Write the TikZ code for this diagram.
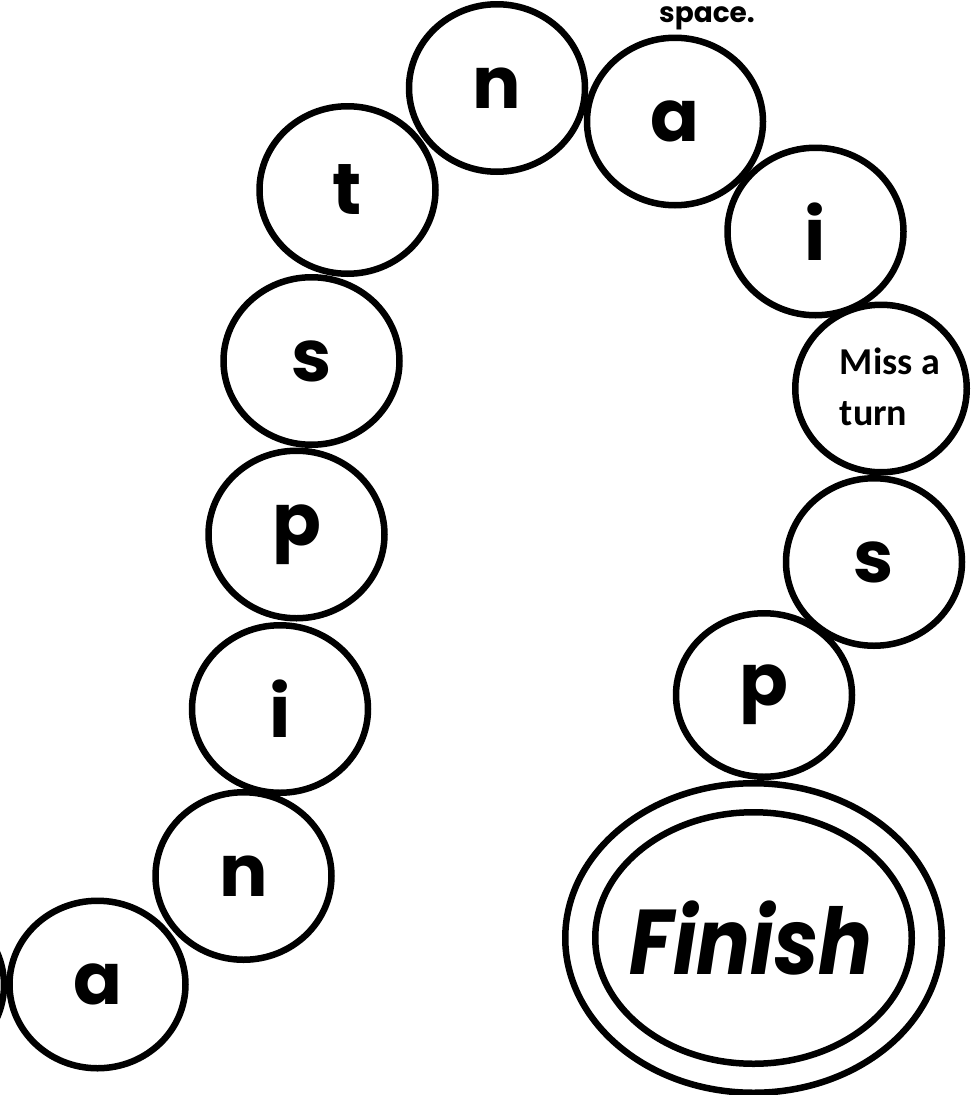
\documentclass[tikz,border=0pt]{standalone}
\usepackage{fontspec}
\usetikzlibrary{shapes.geometric}
\newfontfamily\popfont{Poppins}
\newfontfamily\carlfont{Carlito}
\tikzset{
  x=1pt, y=-1pt,
  spot/.style={draw, line width=6.5pt, ellipse, inner sep=0pt,
    minimum width=176pt, minimum height=167.5pt,
    font=\popfont\bfseries\fontsize{72}{72}\selectfont},
  ring/.style={draw, line width=6.5pt, ellipse, inner sep=0pt},
}
\begin{document}
\begin{tikzpicture}
\useasboundingbox (0,0) rectangle (971,1095);
\begin{scope}
\clip (0,0) rectangle (971,1095);
\node[spot] (cut) at (-84,985) {};
\node[spot] (a1) at (97.5,984.5) {a};
\node[spot] (n1) at (243.5,876) {n};
\node[spot] (i1) at (280,709) {i};
\node[spot] (p1) at (296.5,534.5) {p};
\node[spot] (s1) at (311.5,361) {s};
\node[spot] (t1) at (347.5,190) {t};
\node[spot] (n2) at (497,88) {n};
\node[spot] (a2) at (675,121.5) {a};
\node[spot] (i2) at (815.5,231.5) {i};
\node[spot, minimum width=171.5pt] (miss) at (881,388.5) {};
\node[spot] (s2) at (874,562) {s};
\node[spot, minimum height=163.5pt] (p2) at (764,695) {p};
\node[ring, minimum width=376.5pt, minimum height=309.5pt] (fout) at (753.5,938) {};
\node[ring, minimum width=316.5pt, minimum height=251.5pt] (fin) at (753.5,938) {};
\end{scope}
\node[font=\carlfont\bfseries\fontsize{38}{51}\selectfont, align=left, inner sep=0pt] (misstxt) at (890,387) {Miss a\\turn};
\node[font=\popfont\bfseries\itshape\fontsize{80}{80}\selectfont, inner sep=0pt] (fintxt) at (751,938) {\scalebox{1}[1.15]{Finish}};
\node[font=\popfont\bfseries\fontsize{28}{28}\selectfont, anchor=base, inner sep=0pt] (space) at (707,22) {space.};
\end{tikzpicture}
\end{document}
